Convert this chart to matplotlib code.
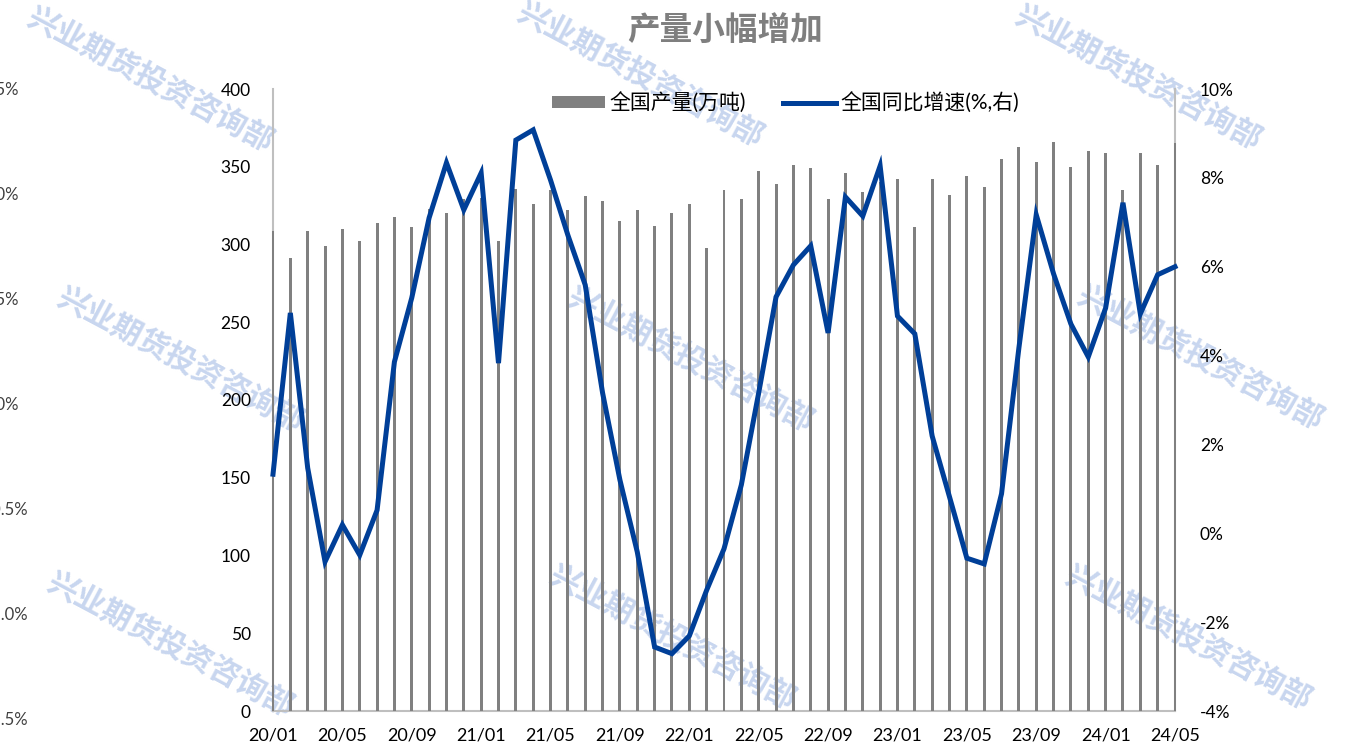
import matplotlib.pyplot as plt

plt.rcParams['font.family'] = ['Lato', 'Noto Sans CJK SC', 'DejaVu Sans']

# monthly labels 20/01 .. 24/05
months = [f"{y:02d}/{m:02d}" for y in range(20, 25) for m in range(1, 13)][:53]

output = [309, 291, 309, 299, 310, 302, 314, 318, 311, 323, 320, 329,
          330, 302, 336, 326, 335, 322, 331, 328, 315, 322, 312, 320,
          326, 298, 335, 329, 347, 339, 351, 349, 329, 346, 334, 340,
          342, 311, 342, 332, 344, 337, 355, 363, 353, 366, 350, 360,
          359, 335, 359, 351, 365]

yoy = [1.33, 4.96, 1.47, -0.64, 0.19, -0.49, 0.52, 3.86, 5.30, 7.10, 8.34, 7.28,
       8.11, 3.83, 8.85, 9.08, 7.95, 6.71, 5.59, 3.16, 1.20, -0.42, -2.56, -2.71,
       -2.31, -1.28, -0.35, 1.09, 3.16, 5.32, 6.04, 6.47, 4.51, 7.57, 7.14, 8.27,
       4.89, 4.49, 2.19, 0.82, -0.56, -0.69, 0.89, 4.17, 7.17, 5.84, 4.71, 3.97,
       5.07, 7.44, 4.94, 5.82, 6.00]

# leftover labels of a neighbouring chart cut by the left edge
stray_labels = ["2.5%", "2.0%", "1.5%", "1.0%", "-0.5%", "-1.0%", "-1.5%"]

fig = plt.figure(figsize=(13.5, 7.52), dpi=100)

# watermarks behind the chart
wm_pos = [(150, 80), (640, 75), (1138, 78), (180, 360), (690, 360), (1200, 358),
          (170, 645), (672, 638), (1188, 638)]
for px, py in wm_pos:
    fig.text(px / 1350, 1 - py / 752, "兴业期货投资咨询部", fontsize=22, fontweight='bold',
             color='#c8d6ef', rotation=-28, ha='center', va='center', zorder=0,
             family=['Noto Sans CJK SC'])

for i, s in enumerate(stray_labels):
    xr = 19 if i < 4 else 28
    fig.text(xr / 1350, 1 - (90 + i * 105) / 752, s, fontsize=12, color='#404040',
             ha='right', va='center', zorder=0)

ax = fig.add_axes([273 / 1350, 41 / 752, 902 / 1350, 622 / 752])
ax2 = ax.twinx()
ax.set_zorder(1)
ax2.set_zorder(2)
ax.patch.set_alpha(0)
ax2.patch.set_alpha(0)

x = list(range(len(months)))
ax.bar(x, output, width=0.17, color='#808080', label='全国产量(万吨)', clip_on=False, zorder=2)
ax2.plot(x, yoy, color='#003f98', linewidth=3.6, solid_joinstyle='miter',
         label='全国同比增速(%,右)', clip_on=False)

ax.set_xlim(0, 52)
ax.set_ylim(0, 400)
ax.set_yticks(range(0, 401, 50))
ax2.set_ylim(-4, 10)
ax2.set_yticks(range(-4, 11, 2))
ax2.set_yticklabels([f"{v}%" for v in range(-4, 11, 2)])
ax.set_xticks(x[::4])
ax.set_xticklabels(months[::4])

# spines sit under the bars, as in the original
for sp in ax2.spines.values():
    sp.set_visible(False)
ax.spines['top'].set_visible(False)
for sp in ('left', 'right', 'bottom'):
    ax.spines[sp].set_color('#bfbfbf')
    ax.spines[sp].set_linewidth(1.5)
    ax.spines[sp].set_zorder(0.5)

for a in (ax, ax2):
    a.tick_params(length=0, labelsize=12.5, colors='#000000')
ax.tick_params(axis='y', pad=16)
ax.tick_params(axis='x', pad=12, labelsize=13)
ax2.tick_params(axis='y', pad=18)

h1, l1 = ax.get_legend_handles_labels()
h2, l2 = ax2.get_legend_handles_labels()
leg = ax2.legend(h1 + h2, l1 + l2, loc='center', bbox_to_anchor=(0.568, 0.9775),
                 ncol=2, frameon=False, fontsize=15, handlelength=2.55,
                 handleheight=0.45, columnspacing=1.8, handletextpad=0.2)

fig.text(725 / 1350, 1 - 30 / 752, "产量小幅增加", fontsize=23.5, fontweight='bold',
         color='#7f7f7f', ha='center', va='center', family=['Noto Sans CJK SC'])

fig.savefig("out.png", dpi=100)
